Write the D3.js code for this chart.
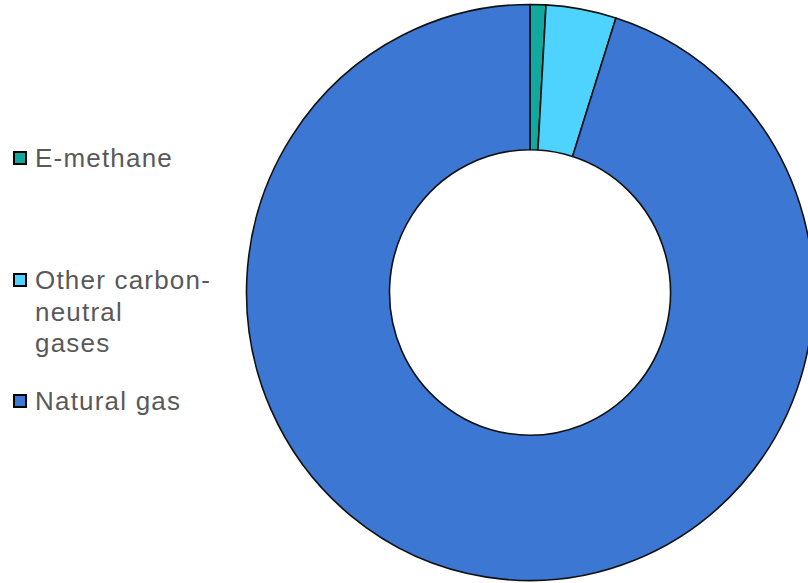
<!DOCTYPE html>
<html>
<head>
<meta charset="utf-8">
<script src="https://cdn.jsdelivr.net/npm/d3@7"></script>
<style>
  body { margin: 0; background: #fff; }
  svg { display: block; }
  .legend text { font-family: "Liberation Sans", Arial, sans-serif; font-size: 26px; letter-spacing: 1.2px; fill: #595959; }
</style>
</head>
<body>
<svg id="chart" width="808" height="583"></svg>
<script>
// chart data
var categories = ["E-methane", "Other carbon-neutral gases", "Natural gas"];
var shares = [0.9, 4.0, 95.1];
var colors = ["#11a89e", "#4dd3fd", "#3c78d3"];
// legend label lines (wrapped like the original)
var legendLines = [["E-methane"], ["Other carbon-", "neutral", "gases"], ["Natural gas"]];
var legendBaselines = [167, 289, 410];

var svg = d3.select("#chart");

var color = d3.scaleOrdinal().domain(categories).range(colors);

var pie = d3.pie()
    .sort(null)
    .value(function(d) { return d.value; });

var arc = d3.arc()
    .innerRadius(140.5)
    .outerRadius(283.5);

var data = categories.map(function(c, i) { return {name: c, value: shares[i]}; });

// donut, slightly taller than wide like the source
var donut = svg.append("g")
    .attr("transform", "translate(530,292.5) scale(1,1.016)");

donut.selectAll("path")
    .data(pie(data))
    .enter()
    .append("path")
    .attr("d", arc)
    .attr("fill", function(d) { return color(d.data.name); })
    .attr("stroke", "#111")
    .attr("stroke-width", 1.6)
    .attr("stroke-linejoin", "round");

// legend
var legend = svg.append("g").attr("class", "legend");
var item = legend.selectAll("g")
    .data(categories)
    .enter()
    .append("g")
    .attr("transform", function(d, i) { return "translate(0," + legendBaselines[i] + ")"; });

item.append("rect")
    .attr("x", 14)
    .attr("y", -15)
    .attr("width", 12)
    .attr("height", 12)
    .attr("fill", function(d) { return color(d); })
    .attr("stroke", "#000")
    .attr("stroke-width", 2);

item.append("text")
    .attr("x", 35)
    .each(function(d, i) {
        var t = d3.select(this);
        legendLines[i].forEach(function(line, j) {
            t.append("tspan")
              .attr("x", 35)
              .attr("y", j * 31.5)
              .text(line);
        });
    });
</script>
</body>
</html>
